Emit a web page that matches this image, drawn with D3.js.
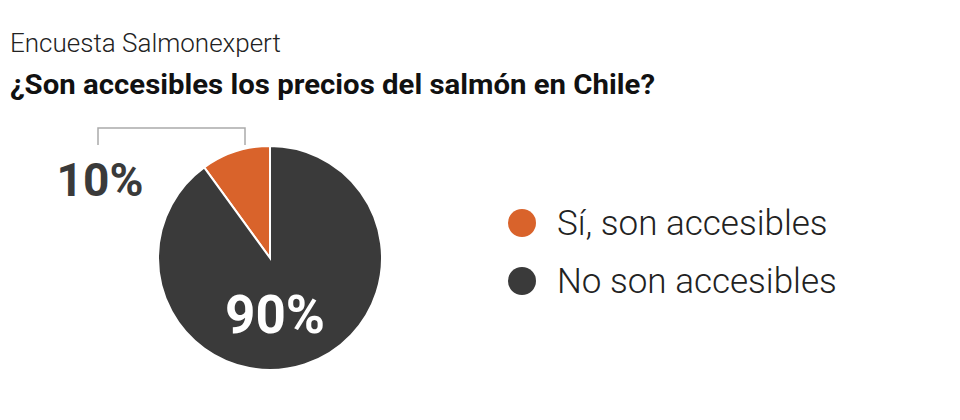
<!DOCTYPE html>
<html><head><meta charset="utf-8">
<script src="https://cdn.jsdelivr.net/npm/d3@7"></script>
<style>body{margin:0;background:#fff;font-family:Roboto,sans-serif}</style>
</head><body><svg width="960" height="420"></svg>
<script>
const categories = ["Sí, son accesibles", "No son accesibles"];
const values = [10, 90];
const colors = ["#d9632b", "#3a3a3a"];

const svg = d3.select("svg");
svg.append("text").attr("x", 10).attr("y", 52).attr("font-size", 26).attr("font-weight", 300)
  .attr("fill", "#222").text("Encuesta Salmonexpert");
svg.append("text").attr("x", 10).attr("y", 94).attr("font-size", 27).attr("font-weight", 700)
  .attr("textLength", 645).attr("lengthAdjust", "spacingAndGlyphs")
  .attr("fill", "#111").text("¿Son accesibles los precios del salmón en Chile?");

const cx = 270, cy = 258, r = 112;
// orange slice sits just counterclockwise of 12 o'clock
const pie = d3.pie().sort(null).value(d => d)
  .startAngle(-2 * Math.PI * values[0] / 100).endAngle(2 * Math.PI - 2 * Math.PI * values[0] / 100);
const arc = d3.arc().innerRadius(0).outerRadius(r);
const g = svg.append("g").attr("transform", `translate(${cx},${cy})`);
const arcs = pie(values);
g.selectAll("path").data(arcs).join("path")
  .attr("d", arc).attr("fill", (d, i) => colors[i])
  .attr("stroke", "#fff").attr("stroke-width", 2);

// callout bracket for the small slice
svg.append("path").attr("d", "M98,145V128H245V145").attr("fill", "none")
  .attr("stroke", "#aaa").attr("stroke-width", 1.5);
svg.append("text").attr("x", 100).attr("y", 196).attr("text-anchor", "middle")
  .attr("font-size", 46).attr("font-weight", 700).attr("fill", "#3a3a3a").text(values[0] + "%");
svg.append("text").attr("x", 275).attr("y", 333).attr("text-anchor", "middle")
  .attr("font-size", 53).attr("font-weight", 700).attr("fill", "#fff").text(values[1] + "%");

const y = d3.scalePoint().domain(categories).range([223, 281]);
const leg = svg.selectAll(".leg").data(categories).join("g")
  .attr("transform", d => `translate(522,${y(d)})`);
leg.append("circle").attr("r", 14).attr("fill", (d, i) => colors[i]);
leg.append("text").attr("x", 35).attr("dy", "0.35em").attr("font-size", 35).attr("font-weight", 300)
  .attr("fill", "#222").text(d => d);
</script></body></html>
